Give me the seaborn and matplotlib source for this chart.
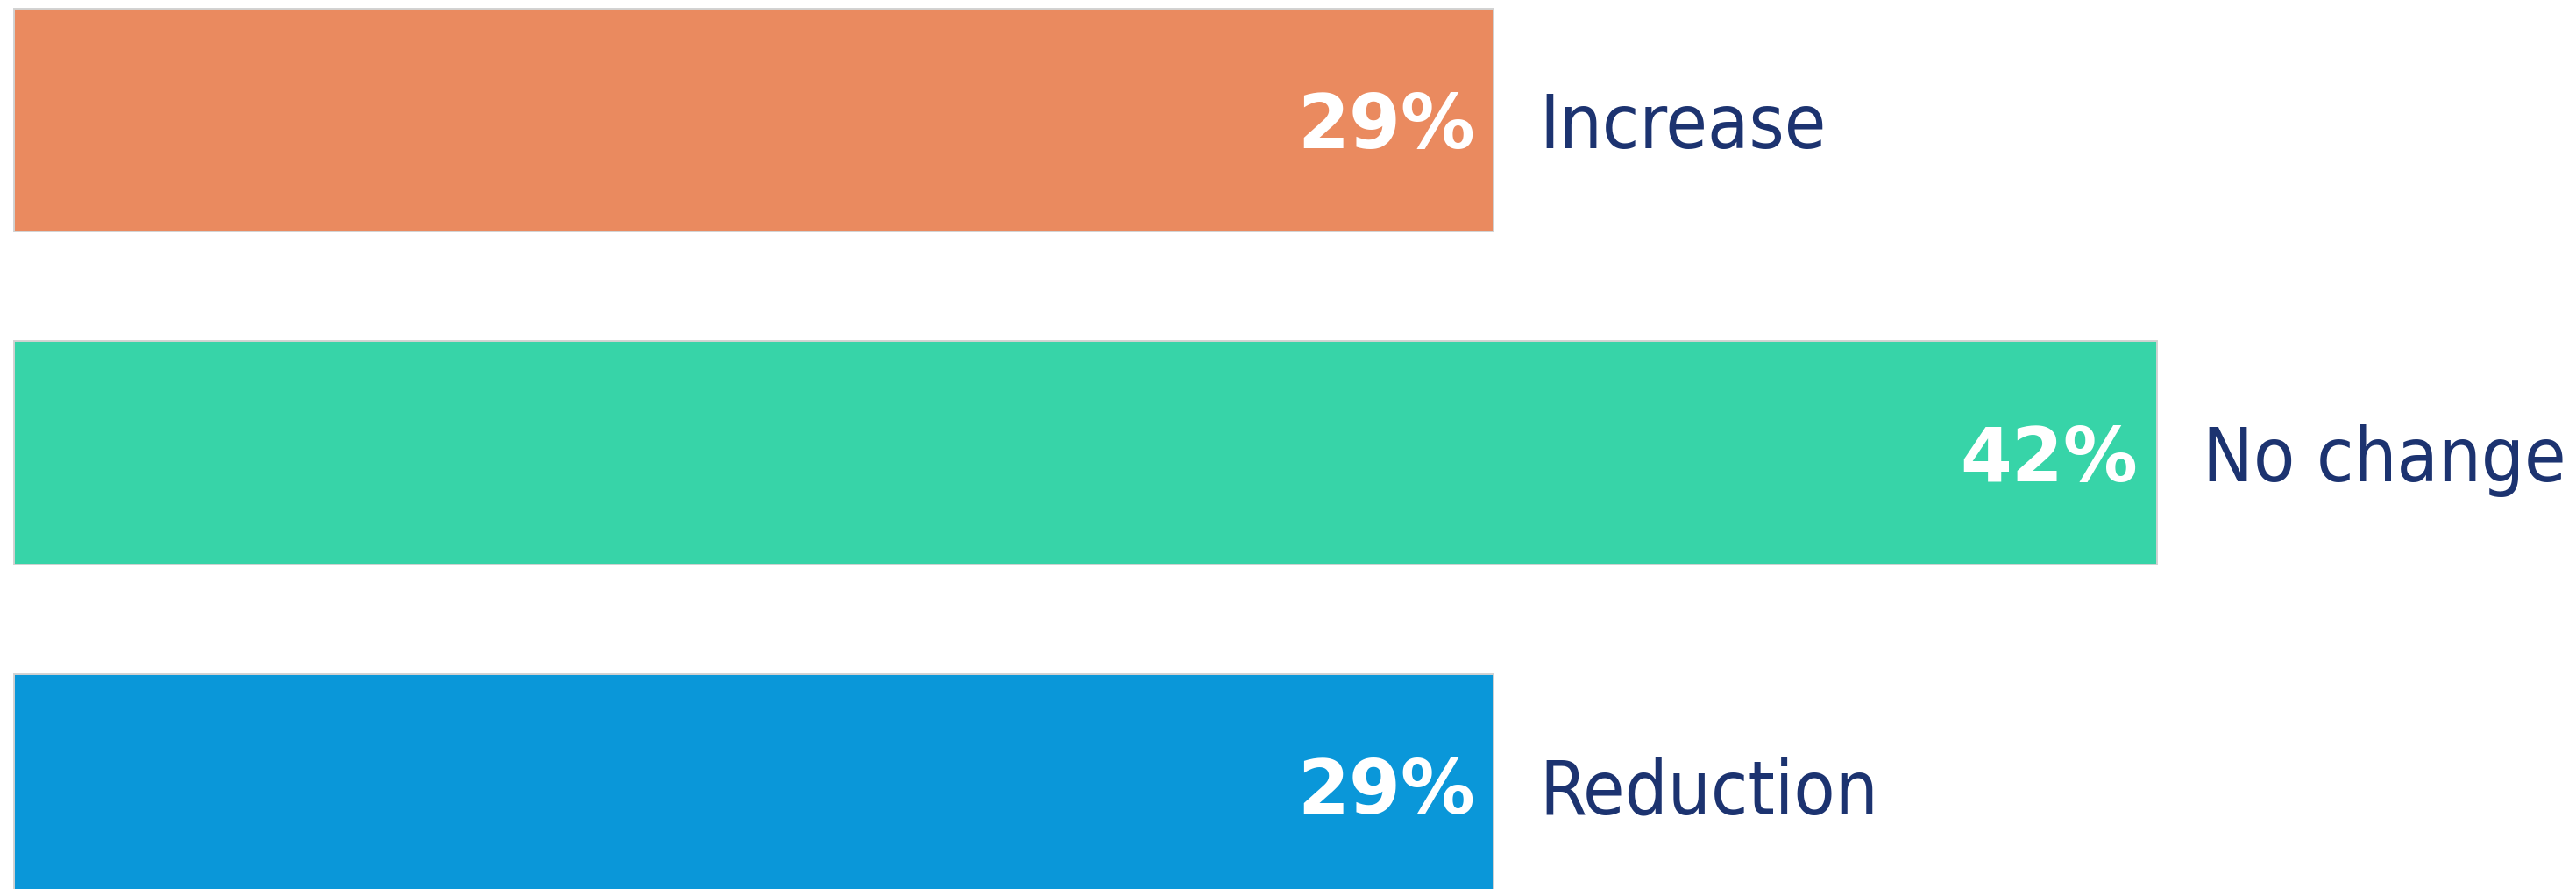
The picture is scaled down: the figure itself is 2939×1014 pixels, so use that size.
import pandas as pd
import matplotlib
matplotlib.use("Agg")
import matplotlib.pyplot as plt
import seaborn as sns

# Data
categories = ["Increase", "No change", "Reduction"]
shares = [29, 42, 29]
bar_colors = ["#EA8A5F", "#37D4A8", "#0A97D9"]

df = pd.DataFrame({"category": categories, "share": shares})

sns.set_theme(style="white")
plt.rcParams["font.family"] = ["DejaVu Sans"]

fig = plt.figure(figsize=(29.39, 10.14), dpi=100)
ax = fig.add_axes([0, 0, 1, 1])

sns.barplot(data=df, x="share", y="category", hue="category", palette=bar_colors,
            saturation=1, legend=False, orient="h", width=0.67,
            edgecolor="#d2d2d2", linewidth=1.4, ax=ax)

# Value labels inside bars and category labels next to them
for i, (cat, val) in enumerate(zip(categories, shares)):
    ax.text(val - 0.36, i, f"{val}%", ha="right", va="center_baseline", color="white",
            fontsize=61, fontweight="bold")
    ax.text(val + 0.9, i, cat, ha="left", va="center_baseline", color="#1C3370",
            fontsize=62, fontstretch="condensed")

ax.set_xlim(-0.275, 50.22)
ax.set_ylim(2.311, -0.361)
ax.set_xlabel("")
ax.set_ylabel("")
ax.set_xticks([])
ax.set_yticks([])
sns.despine(ax=ax, left=True, bottom=True)

plt.savefig("out.png", dpi=100, facecolor="white")
